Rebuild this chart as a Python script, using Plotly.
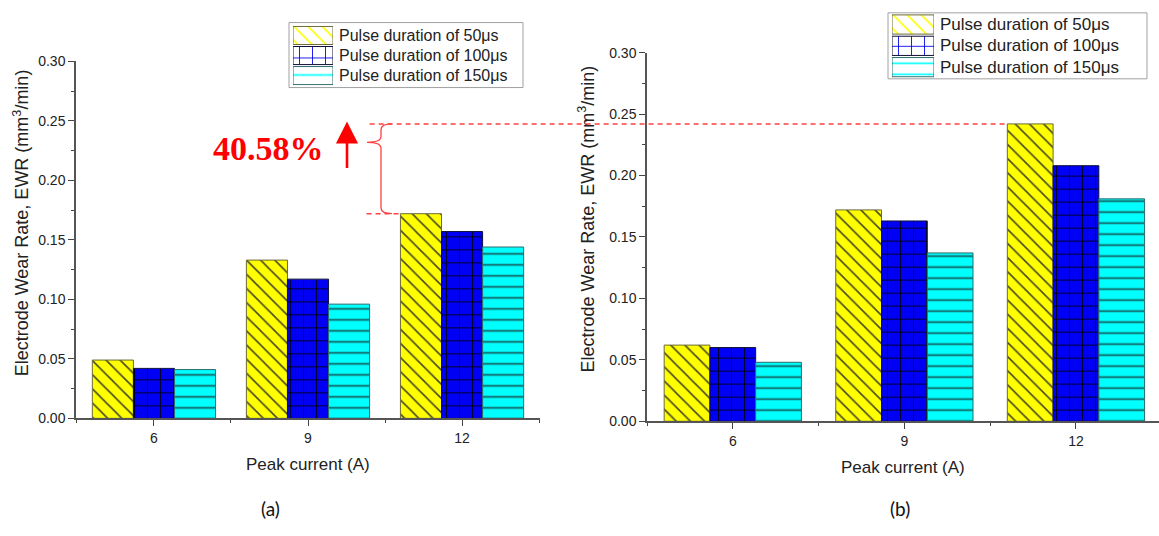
import plotly.graph_objects as go

# ---------------- data ----------------
categories = ["6", "9", "12"]
series_names = ["Pulse duration of 50μs", "Pulse duration of 100μs", "Pulse duration of 150μs"]

# panel (a)
ewr_a_50 = [0.049, 0.133, 0.172]
ewr_a_100 = [0.042, 0.117, 0.157]
ewr_a_150 = [0.041, 0.096, 0.144]

# panel (b)
ewr_b_50 = [0.062, 0.172, 0.242]
ewr_b_100 = [0.060, 0.163, 0.208]
ewr_b_150 = [0.048, 0.137, 0.181]

y_ticks = [0.00, 0.05, 0.10, 0.15, 0.20, 0.25, 0.30]
y_tick_labels = ["0.00", "0.05", "0.10", "0.15", "0.20", "0.25", "0.30"]
increase_label = "40.58%"

# ---------------- layout geometry ----------------
W, H = 1159, 536


def px_x(p):
    return p / W


def px_y(p):
    return 1 - p / H


def to_paper(v, dom, rng):
    return dom[0] + (v - rng[0]) / (rng[1] - rng[0]) * (dom[1] - dom[0])


xa_dom = [px_x(76), px_x(540)]
ya_dom = [px_y(423), px_y(55)]
xb_dom = [px_x(647), 1.0]
yb_dom = [px_y(426), px_y(46)]
xa_rng = [-0.506, 2.506]
xb_rng = [-0.5, 2.484]
y_rng = [0, 0.30]

bargap = 0.2

styles = [
    dict(color="#ffff00", line="#6a6a3a", shape="\\", fg="#4a4a22", size=10, sol=0.16),
    dict(color="#0000f4", line="#10103a", shape="+", fg="#000010", size=13, sol=0.13),
    dict(color="#00ffff", line="#2c6a6a", shape="-", fg="#175555", size=11, sol=0.15),
]

FONT = "Liberation Sans, Arial, sans-serif"
TXT = "#222222"


def marker_for(st):
    return dict(color=st["color"], line=dict(color=st["line"], width=1),
                pattern=dict(shape=st["shape"], fgcolor=st["fg"], bgcolor=st["color"],
                             size=st["size"], solidity=st["sol"], fillmode="replace"))


fig = go.Figure()
xpos = list(range(len(categories)))

for vals, st, name in zip([ewr_a_50, ewr_a_100, ewr_a_150], styles, series_names):
    fig.add_trace(go.Bar(x=xpos, y=vals, name=name, xaxis="x", yaxis="y",
                         marker=marker_for(st), showlegend=False, hoverinfo="skip"))

for vals, st, name in zip([ewr_b_50, ewr_b_100, ewr_b_150], styles, series_names):
    fig.add_trace(go.Bar(x=xpos, y=vals, name=name, xaxis="x2", yaxis="y2",
                         marker=marker_for(st), showlegend=False, hoverinfo="skip"))

# ---------------- legends (patterned swatches + text) ----------------
rows = list(range(len(series_names)))
legend_specs = [
    dict(ax="x3", ay="y3", sx=(293, 333), sy=(18, 80), tx=337, fs=16, frame=(289, 15, 523, 82)),
    dict(ax="x4", ay="y4", sx=(892, 934), sy=(6, 72), tx=938, fs=17, frame=(888, 5, 1147, 73)),
]
legend_axes = {}
legend_annots = []
legend_shapes = []
for spec in legend_specs:
    fig.add_trace(go.Bar(
        x=[1] * len(rows), y=rows, orientation="h", width=0.9,
        xaxis=spec["ax"], yaxis=spec["ay"], showlegend=False, hoverinfo="skip",
        marker=dict(color=[s["color"] for s in styles],
                    line=dict(color=[s["line"] for s in styles], width=1),
                    pattern=dict(shape=[s["shape"] for s in styles],
                                 fgcolor=[s["fg"] for s in styles],
                                 bgcolor=[s["color"] for s in styles],
                                 size=[s["size"] for s in styles],
                                 solidity=[s["sol"] for s in styles], fillmode="replace")),
    ))
    xn = "xaxis" + spec["ax"][1:]
    yn = "yaxis" + spec["ay"][1:]
    legend_axes[xn] = dict(domain=[px_x(spec["sx"][0]), px_x(spec["sx"][1])], range=[0, 1],
                           anchor=spec["ay"], visible=False, fixedrange=True)
    legend_axes[yn] = dict(domain=[px_y(spec["sy"][1]), px_y(spec["sy"][0])],
                           range=[len(rows) - 0.5, -0.5], anchor=spec["ax"], visible=False, fixedrange=True)
    for r, name in zip(rows, series_names):
        legend_annots.append(dict(text=name, x=px_x(spec["tx"]), y=r, xref="paper", yref=spec["ay"],
                                  showarrow=False, xanchor="left", yanchor="middle",
                                  font=dict(family=FONT, size=spec["fs"], color=TXT)))
    fx0, fy0, fx1, fy1 = spec["frame"]
    legend_shapes.append(dict(type="rect", xref="paper", yref="paper", x0=px_x(fx0), x1=px_x(fx1),
                              y0=px_y(fy1), y1=px_y(fy0), line=dict(color="#a0a0a0", width=1),
                              fillcolor="rgba(0,0,0,0)", layer="below"))

minor_y = [(a + b) / 2 for a, b in zip(y_ticks[:-1], y_ticks[1:])]
minor_x = [-0.5] + [i + 0.5 for i in xpos]


def xaxis_cfg(dom, rng, anchor):
    return dict(domain=dom, range=rng, anchor=anchor, tickmode="array", tickvals=xpos,
                ticktext=categories, ticks="outside", ticklen=6, tickwidth=1.2, tickcolor="#444",
                showline=True, linecolor="#555", linewidth=1.5, showgrid=False, zeroline=False,
                tickfont=dict(family=FONT, size=14, color=TXT),
                minor=dict(tickvals=minor_x, ticks="outside", ticklen=3, tickcolor="#444", tickwidth=1.2))


def yaxis_cfg(dom, anchor):
    return dict(domain=dom, range=y_rng, anchor=anchor, tickmode="array", tickvals=y_ticks,
                ticktext=y_tick_labels, ticks="outside", ticklen=6, tickwidth=1.2, tickcolor="#444",
                showline=True, linecolor="#555", linewidth=1.5, showgrid=False, zeroline=False,
                tickfont=dict(family=FONT, size=14, color=TXT),
                minor=dict(tickvals=minor_y, ticks="outside", ticklen=3, tickcolor="#444", tickwidth=1.2))


def label(text, x, y, size, family=FONT, color=TXT, angle=0):
    return dict(text=text, x=px_x(x), y=px_y(y), xref="paper", yref="paper", showarrow=False,
                xanchor="center", yanchor="middle", textangle=angle,
                font=dict(family=family, size=size, color=color))


ytitle = "Electrode Wear Rate, EWR (mm<sup>3</sup>/min)"
annotations = [
    label(ytitle, 21, 222, 18, angle=-90),
    label(ytitle, 587, 218, 18, angle=-90),
    label("Peak current (A)", 308, 471, 17),
    label("Peak current (A)", 903, 474, 17),
    label("(a)", 270, 516, 19, family="Lato, Open Sans, sans-serif", color="#111"),
    label("(b)", 900, 516, 19, family="Lato, Open Sans, sans-serif", color="#111"),
    label("<b>" + increase_label + "</b>", 268, 145, 34,
          family="Liberation Serif, Times New Roman, serif", color="#ff0000"),
    dict(text="", x=px_x(347), y=px_y(117), xref="paper", yref="paper", showarrow=True,
         ax=0, ay=48, arrowhead=2, arrowsize=1.7, arrowwidth=2.6, arrowcolor="#ff0000"),
] + legend_annots

# reference lines linking the 12 A / 50 μs bars of both panels
y_top = to_paper(ewr_b_50[2], yb_dom, y_rng)
y_bot = to_paper(ewr_a_50[2], ya_dom, y_rng)
bar_left_12 = xpos[2] - (1 - bargap) / 2
x_start_top = to_paper(1.40, xa_dom, xa_rng)
x_end_top = to_paper(bar_left_12, xb_dom, xb_rng)

xe, xs, xt = px_x(392), px_x(381), px_x(367)
ry = 6 / H
ytip = y_top - 19 / H
brace = (f"M {xe},{y_top} Q {xs},{y_top} {xs},{y_top - ry} L {xs},{ytip + ry} "
         f"Q {xs},{ytip} {xt},{ytip} Q {xs},{ytip} {xs},{ytip - ry} L {xs},{y_bot + ry} "
         f"Q {xs},{y_bot} {xe},{y_bot}")

shapes = [
    dict(type="line", xref="paper", yref="paper", x0=x_start_top, x1=x_end_top, y0=y_top, y1=y_top,
         line=dict(color="#ff4040", width=1.5, dash="5px,4px")),
    dict(type="line", xref="x", yref="y", x0=1.38, x1=bar_left_12, y0=ewr_a_50[2], y1=ewr_a_50[2],
         line=dict(color="#ff4040", width=1.5, dash="5px,4px")),
    dict(type="path", xref="paper", yref="paper", path=brace, line=dict(color="#ff4040", width=1.3)),
] + legend_shapes

fig.update_layout(
    width=W, height=H, margin=dict(l=0, r=0, t=0, b=0),
    paper_bgcolor="white", plot_bgcolor="white",
    barmode="group", bargap=bargap, bargroupgap=0, showlegend=False,
    xaxis=xaxis_cfg(xa_dom, xa_rng, "y"),
    yaxis=yaxis_cfg(ya_dom, "x"),
    xaxis2=xaxis_cfg(xb_dom, xb_rng, "y2"),
    yaxis2=yaxis_cfg(yb_dom, "x2"),
    annotations=annotations,
    shapes=shapes,
    **legend_axes,
)

fig.write_html("out.html")
